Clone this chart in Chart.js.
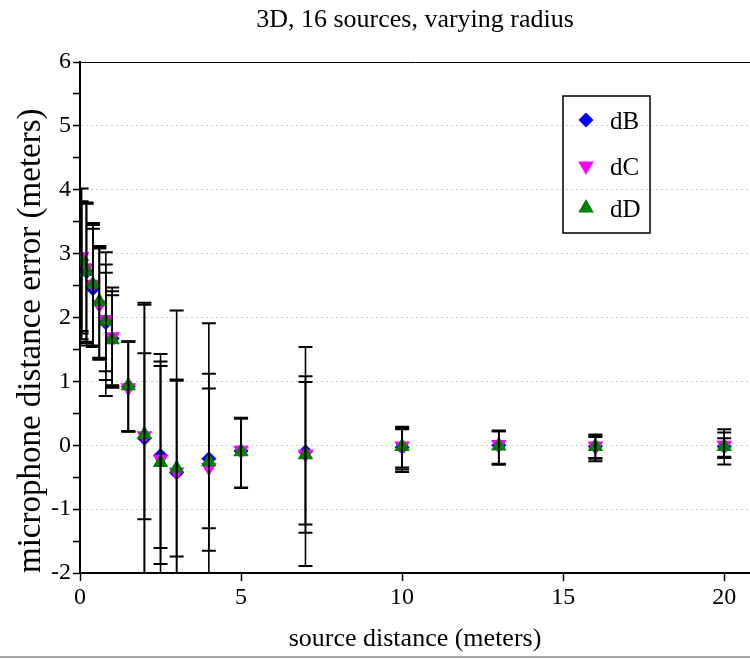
<!DOCTYPE html>
<html>
<head>
<meta charset="utf-8">
<script src="https://cdn.jsdelivr.net/npm/chart.js@4.4.0/dist/chart.umd.min.js"></script>
<style>
html, body { margin: 0; padding: 0; background: #fff; }
#wrap { width: 750px; height: 659px; }
</style>
</head>
<body>
<div id="wrap"><canvas id="grafico" width="750" height="659"></canvas></div>
<script>
var distancias = [0.05, 0.2, 0.4, 0.6, 0.8, 1, 1.5, 2, 2.5, 3, 4, 5, 7, 10, 13, 16, 20];
var xTicks = [0, 5, 10, 15, 20];

// media e barras de erro (min / max) de cada serie
var dB    = [2.9, 2.72, 2.45, 2.22, 1.92, 1.67, 0.92, 0.11, -0.16, -0.43, -0.21, -0.09, -0.1, -0.03, 0, -0.02, -0.02];
var dBMin = [1.79, 1.62, 1.56, 1.37, 0.77, 0.9, 0.22, -2.3, -1.86, -2.9, -2.33, -0.67, -1.89, -0.35, -0.3, -0.2, -0.3];
var dBMax = [4.02, 3.8, 3.48, 3.12, 3.02, 2.47, 1.62, 2.23, 1.43, 2.11, 1.91, 0.42, 1.54, 0.29, 0.22, 0.17, 0.25];

var dC    = [2.95, 2.78, 2.52, 2.2, 1.97, 1.7, 0.9, 0.15, -0.22, -0.42, -0.35, -0.08, -0.14, -0.01, 0.01, -0.01, 0];
var dCMin = [1.66, 1.56, 1.54, 1.34, 1.02, 0.94, 0.22, -1.16, -1.61, -1.74, -1.65, -0.66, -1.37, -0.42, -0.29, -0.25, -0.18];
var dCMax = [3.82, 3.79, 3.39, 3.08, 2.83, 2.41, 1.63, 1.44, 1.31, 1.03, 0.89, 0.42, 1.08, 0.25, 0.22, 0.13, 0.11];

var dD    = [2.88, 2.72, 2.52, 2.25, 1.94, 1.65, 0.93, 0.17, -0.27, -0.36, -0.26, -0.1, -0.15, -0.02, -0.01, -0.02, -0.02];
var dDMin = [1.75, 1.6, 1.55, 1.36, 1.16, 0.91, 0.21, -2.2, -2.4, -2.6, -1.3, -0.67, -1.24, -0.38, -0.3, -0.21, -0.2];
var dDMax = [3.8, 3.78, 3.45, 3.1, 2.7, 2.35, 1.62, 2.2, 1.24, 1.01, 1.12, 0.43, 0.99, 0.27, 0.23, 0.15, 0.2];

var serif = "'Liberation Serif', 'Times New Roman', serif";

function pontos(ys){
	return distancias.map(function(x, i){ return {x: x, y: ys[i]}; });
}

function serie(label, ys, lo, hi, estilo, raio, rot, cor, ordem){
	return {
		label: label,
		data: pontos(ys),
		errLow: lo,
		errHigh: hi,
		showLine: false,
		pointStyle: estilo,
		pointRadius: raio,
		pointHoverRadius: raio,
		pointRotation: rot,
		pointBackgroundColor: cor,
		pointBorderColor: cor,
		pointBorderWidth: 0,
		backgroundColor: cor,
		borderColor: cor,
		order: ordem
	};
}

// barras de erro pretas por cima dos marcadores
var barrasErro = {
	id: 'barrasErro',
	afterDatasetsDraw: function(chart){
		var ctx = chart.ctx, a = chart.chartArea;
		var xs = chart.scales.x, ys = chart.scales.y;
		ctx.save();
		ctx.beginPath();
		ctx.rect(a.left, a.top, a.right - a.left, a.bottom - a.top);
		ctx.clip();
		ctx.strokeStyle = '#000';
		chart.data.datasets.forEach(function(ds){
			ds.data.forEach(function(p, i){
				var px = xs.getPixelForValue(p.x);
				var y1 = ys.getPixelForValue(ds.errLow[i]);
				var y2 = ys.getPixelForValue(ds.errHigh[i]);
				ctx.lineWidth = 1.6;
				ctx.beginPath();
				ctx.moveTo(px, y1); ctx.lineTo(px, y2);
				ctx.stroke();
				ctx.lineWidth = 2;
				ctx.beginPath();
				ctx.moveTo(px - 7, y1); ctx.lineTo(px + 7, y1);
				ctx.moveTo(px - 7, y2); ctx.lineTo(px + 7, y2);
				ctx.stroke();
			});
		});
		ctx.restore();
	}
};

// legenda dentro da area do grafico, com caixa
var legendaCaixa = {
	id: 'legendaCaixa',
	afterLayout: function(chart){
		// titulo centrado sobre a area do grafico
		if (chart.titleBlock){
			chart.titleBlock.left = chart.chartArea.left;
			chart.titleBlock.right = chart.chartArea.right;
		}
	},
	afterDraw: function(chart){
		var ctx = chart.ctx, a = chart.chartArea;
		var bx = a.right - 187, by = a.top + 34, bw = 87, bh = 137;
		ctx.save();
		ctx.lineWidth = 1.5;
		ctx.strokeStyle = '#000';
		ctx.strokeRect(bx, by, bw, bh);
		var linhas = [24, 70, 112];
		ctx.font = '25px ' + serif;
		ctx.textBaseline = 'middle';
		ctx.textAlign = 'left';
		chart.data.datasets.forEach(function(ds, j){
			var yy = by + linhas[j];
			ctx.fillStyle = ds.pointBackgroundColor;
			Chart.helpers.drawPoint(ctx, {
				pointStyle: ds.pointStyle, radius: ds.pointRadius,
				rotation: ds.pointRotation, borderWidth: 0
			}, bx + 23, yy);
			ctx.fillStyle = '#000';
			ctx.fillText(ds.label, bx + 47, yy + 2);
		});
		// linha cinza no fundo
		ctx.strokeStyle = '#8a8a8a';
		ctx.lineWidth = 1.5;
		ctx.beginPath();
		ctx.moveTo(0, chart.height - 2);
		ctx.lineTo(chart.width, chart.height - 2);
		ctx.stroke();
		ctx.restore();
	}
};

var grafico = new Chart(document.getElementById('grafico').getContext('2d'), {
	type: 'scatter',
	data: {
		datasets: [
			serie('dB', dB, dBMin, dBMax, 'rectRot', 7.5, 0, '#0000ff', 2),
			serie('dC', dC, dCMin, dCMax, 'triangle', 9, 180, '#ff00ff', 1),
			serie('dD', dD, dDMin, dDMax, 'triangle', 9, 0, '#008000', 0)
		]
	},
	options: {
		responsive: false,
		animation: false,
		devicePixelRatio: 1,
		layout: { padding: 0, autoPadding: false },
		plugins: {
			legend: { display: false },
			tooltip: { enabled: false },
			title: {
				display: true,
				text: '3D, 16 sources, varying radius',
				color: '#000',
				font: { family: serif, size: 26, weight: 'normal' },
				padding: { top: 4.4, bottom: 26.4 }
			}
		},
		scales: {
			x: {
				type: 'linear',
				min: 0,
				max: 20.8,
				afterBuildTicks: function(s){ s.ticks = xTicks.map(function(v){ return {value: v}; }); },
				afterFit: function(s){ s.height = 86; s.paddingLeft = 0; s.paddingRight = 0; },
				ticks: {
					color: '#000',
					font: { family: serif, size: 24 },
					padding: 2,
					maxRotation: 0,
					callback: function(v){ return String(v); }
				},
				grid: {
					drawOnChartArea: false,
					drawTicks: true,
					tickLength: 8,
					tickColor: '#000',
					tickWidth: 1.5
				},
				border: { display: true, color: '#000', width: 2 },
				title: {
					display: true,
					text: 'source distance (meters)',
					color: '#000',
					font: { family: serif, size: 26 },
					padding: { top: 0, bottom: 4 }
				}
			},
			y: {
				type: 'linear',
				min: -2,
				max: 6,
				afterFit: function(s){ s.width = 80; },
				ticks: {
					stepSize: 0.5,
					color: '#000',
					font: { family: serif, size: 24 },
					padding: 2,
					callback: function(v){ return Number.isInteger(v) ? String(v) : ''; }
				},
				grid: {
					drawTicks: true,
					tickLength: 7,
					tickColor: '#000',
					tickWidth: 1.5,
					lineWidth: 1,
					color: function(c){
						var v = c.tick ? c.tick.value : null;
						if (v === 6) return '#000';
						if (Number.isInteger(v) && v > -2) return '#cccccc';
						return 'rgba(0,0,0,0)';
					}
				},
				border: {
					display: true, color: '#000', width: 2,
					dash: function(c){ return (c.tick && c.tick.value === 6) ? [] : [2, 3]; }
				},
				title: {
					display: true,
					text: 'microphone distance error (meters)',
					align: 'start',
					color: '#000',
					font: { family: serif, size: 33 },
					padding: { top: 12, bottom: 0 }
				}
			}
		}
	},
	plugins: [barrasErro, legendaCaixa]
});
</script>
</body>
</html>
